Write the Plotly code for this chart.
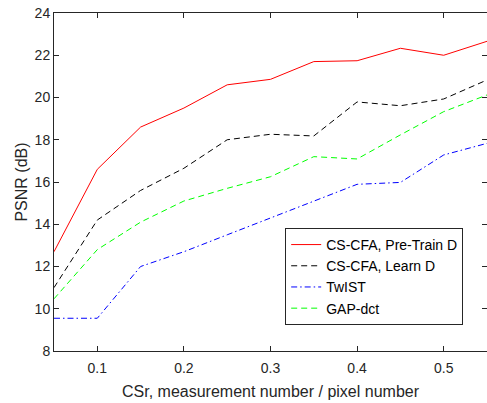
import plotly.graph_objects as go

csr = [0.05, 0.10, 0.15, 0.20, 0.25, 0.30, 0.35, 0.40, 0.45, 0.50, 0.55]
pretrain = [12.7, 16.6, 18.6, 19.5, 20.6, 20.86, 21.7, 21.74, 22.33, 22.0, 22.66]
learn = [11.0, 14.2, 15.6, 16.65, 18.0, 18.26, 18.18, 19.79, 19.61, 19.93, 20.83]
twist = [9.55, 9.55, 12.0, 12.7, 13.5, 14.3, 15.1, 15.89, 15.98, 17.28, 17.83]
gapdct = [10.47, 12.8, 14.1, 15.1, 15.7, 16.25, 17.2, 17.09, 18.23, 19.33, 20.12]

names = ["CS-CFA, Pre-Train D", "CS-CFA, Learn D", "TwIST", "GAP-dct"]
colors = ["#ff0000", "#000000", "#0000ff", "#00ff00"]
dashes = ["solid", "6px,4px", "6px,3px,1.5px,3px", "6px,4px"]
series = [pretrain, learn, twist, gapdct]

fig = go.Figure()
for n, c, d, s in zip(names, colors, dashes, series):
    fig.add_trace(go.Scatter(x=csr, y=s, mode="lines", name=n,
                             line=dict(color=c, width=1, dash=d)))

axis_common = dict(showgrid=False, zeroline=False, showline=True, linecolor="#262626",
                   linewidth=1, mirror="ticks", ticks="inside", ticklen=5,
                   tickcolor="#262626", tickfont=dict(size=14, color="#262626"),
                   automargin=False, ticklabeloverflow="allow")

fig.update_xaxes(range=[0.05, 0.55], tickvals=[0.1, 0.2, 0.3, 0.4, 0.5],
                 ticktext=["0.1", "0.2", "0.3", "0.4", "0.5"],
                 ticklabelstandoff=4,
                 title=dict(text="CSr, measurement number / pixel number",
                            font=dict(size=16, color="#262626"), standoff=11),
                 **axis_common)
fig.update_yaxes(range=[8, 24], tickvals=list(range(8, 25, 2)),
                 title=dict(text="PSNR (dB)", font=dict(size=16, color="#262626"), standoff=3),
                 **axis_common)

fig.update_layout(
    width=487, height=403,
    margin=dict(l=54, r=0, t=13, b=52),
    paper_bgcolor="white", plot_bgcolor="white",
    font=dict(family="Liberation Sans, Arial, sans-serif", color="#262626"),
    legend=dict(x=0.945, y=0.364, xanchor="right", yanchor="top",
                bordercolor="#262626", borderwidth=1, bgcolor="white",
                font=dict(size=14, color="#000000"), tracegroupgap=0),
    showlegend=True,
)

fig.write_html("out.html", config={"displayModeBar": False},
               post_script="document.body.style.margin='0';")
